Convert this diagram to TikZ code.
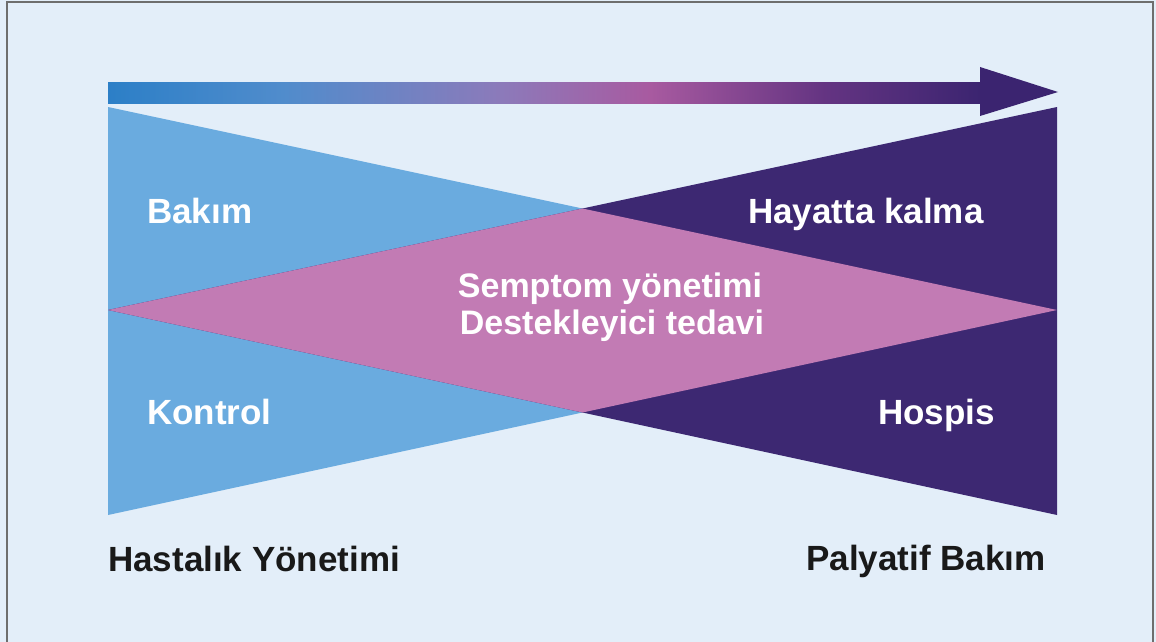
\documentclass[tikz,border=0pt]{standalone}
\usepackage{fontspec}
\setmainfont{Liberation Sans}
\definecolor{bg}{HTML}{E3EEF9}
\definecolor{frame}{HTML}{6E6E6E}
\definecolor{lblue}{HTML}{6AABDF}
\definecolor{dpurple}{HTML}{3D2872}
\definecolor{pinkc}{HTML}{C27BB4}
\definecolor{arrR}{HTML}{3B2470}
\definecolor{sA}{HTML}{2C7FC7}
\definecolor{sB}{HTML}{508CCC}
\definecolor{sC}{HTML}{8C7ABA}
\definecolor{sD}{HTML}{A85AA0}
\definecolor{sE}{HTML}{643482}
\pgfdeclarehorizontalshading{arrowshade}{100bp}{
  color(0bp)=(sA);
  color(25bp)=(sA);
  color(35bp)=(sB);
  color(47.5bp)=(sC);
  color(56bp)=(sD);
  color(66bp)=(sE);
  color(75bp)=(arrR);
  color(100bp)=(arrR)
}
\tikzset{
  lbl/.style={font=\fontsize{35}{38}\selectfont\bfseries, inner sep=0pt, anchor=base west},
  wlbl/.style={lbl, text=white},
  klbl/.style={lbl, text=black!90},
  clbl/.style={font=\fontsize{34}{38}\selectfont\bfseries, inner sep=0pt, text=white, anchor=base, align=center}
}
\begin{document}
\begin{tikzpicture}[x=1pt,y=-1pt]
\useasboundingbox (0,0) rectangle (1156,642);
\fill[bg] (0,0) rectangle (1156,642);
% frame
\draw[frame, line width=2pt] (7,642) -- (7,2) -- (1153,2) -- (1153,642);
% corner points
\coordinate (TL) at (108,107);
\coordinate (BL) at (108,515);
\coordinate (TR) at (1057,107);
\coordinate (BR) at (1057,515);
\coordinate (ML) at (108,310);
\coordinate (MR) at (1057,310);
\coordinate (CT) at (582.5,208.5);
\coordinate (CB) at (582.5,412.5);
% triangles
\fill[lblue] (TL) -- (BL) -- (MR) -- cycle;
\fill[dpurple] (TR) -- (BR) -- (ML) -- cycle;
\fill[pinkc] (ML) -- (CT) -- (MR) -- (CB) -- cycle;
% arrow
\coordinate (AS) at (108,82);
\coordinate (AE) at (982,103);
\shade[shading=arrowshade] (AS) rectangle (AE);
\coordinate (HT) at (980,67);
\coordinate (HB) at (980,116);
\coordinate (TIP) at (1058,92);
\fill[arrR] (HT) -- (TIP) -- (HB) -- cycle;
% labels
\node[wlbl] (bakim) at (147,223) {Bakım};
\node[wlbl] (kontrol) at (147,424) {Kontrol};
\node[wlbl] (hayatta) at (748,223) {Hayatta kalma};
\node[wlbl] (hospis) at (878,424) {Hospis};
\node[clbl] (semptom) at (610,297) {Semptom yönetimi};
\node[clbl] (destek) at (612,334) {Destekleyici tedavi};
\node[klbl] (hastalik) at (108,571) {Hastalık Yönetimi};
\node[klbl] (palyatif) at (806,570) {Palyatif Bakım};
\end{tikzpicture}
\end{document}
